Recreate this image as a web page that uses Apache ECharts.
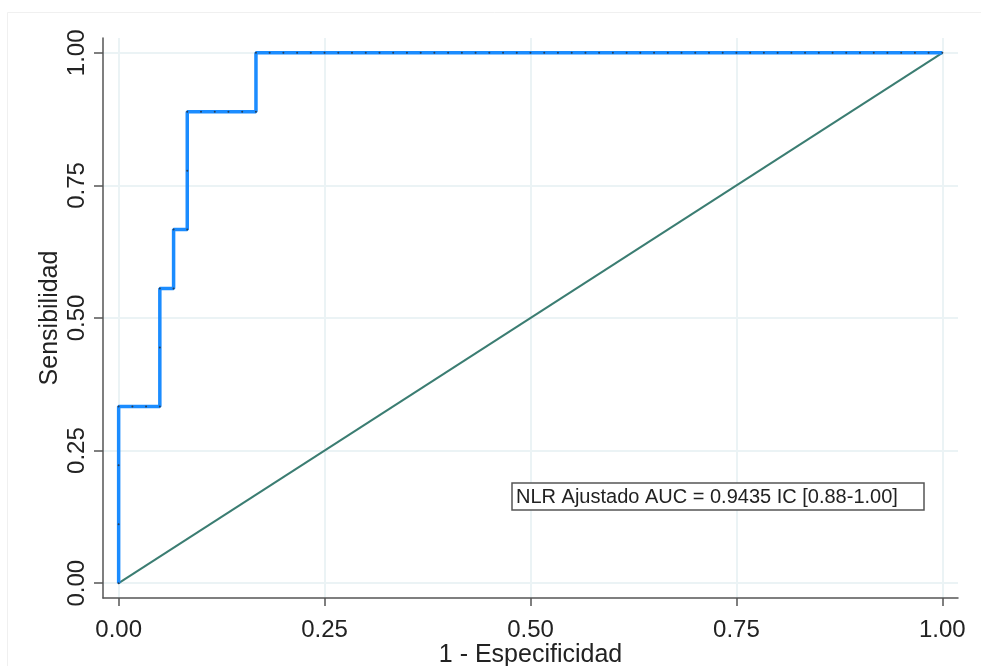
<!DOCTYPE html>
<html>
<head>
<meta charset="utf-8">
<script src="https://cdn.jsdelivr.net/npm/echarts@6/dist/echarts.min.js"></script>
<style>html,body{margin:0;padding:0;background:#fff;}#c{width:981px;height:666px;}</style>
</head>
<body>
<div id="c"></div>
<script>
// ROC curve points (1 - specificity, sensitivity)
var rocFpr = [0, 0, 0, 0, 0.0167, 0.0333, 0.05, 0.05, 0.05, 0.0667, 0.0667, 0.0833, 0.0833, 0.0833,
  0.1, 0.1167, 0.1333, 0.15, 0.1667, 0.1667,
  0.1833, 0.2, 0.2167, 0.2333, 0.25, 0.2667, 0.2833, 0.3, 0.3167, 0.3333,
  0.35, 0.3667, 0.3833, 0.4, 0.4167, 0.4333, 0.45, 0.4667, 0.4833, 0.5,
  0.5167, 0.5333, 0.55, 0.5667, 0.5833, 0.6, 0.6167, 0.6333, 0.65, 0.6667,
  0.6833, 0.7, 0.7167, 0.7333, 0.75, 0.7667, 0.7833, 0.8, 0.8167, 0.8333,
  0.85, 0.8667, 0.8833, 0.9, 0.9167, 0.9333, 0.95, 0.9667, 0.9833, 1];
var rocTpr = [0, 0.1111, 0.2222, 0.3333, 0.3333, 0.3333, 0.3333, 0.4444, 0.5556, 0.5556, 0.6667, 0.6667, 0.7778, 0.8889,
  0.8889, 0.8889, 0.8889, 0.8889, 0.8889, 1,
  1, 1, 1, 1, 1, 1, 1, 1, 1, 1,
  1, 1, 1, 1, 1, 1, 1, 1, 1, 1,
  1, 1, 1, 1, 1, 1, 1, 1, 1, 1,
  1, 1, 1, 1, 1, 1, 1, 1, 1, 1,
  1, 1, 1, 1, 1, 1, 1, 1, 1, 1];
var refFpr = [0, 1];
var refTpr = [0, 1];
var xTicks = [0, 0.25, 0.5, 0.75, 1];
var yTicks = [0, 0.25, 0.5, 0.75, 1];
var xName = '1 - Especificidad';
var yName = 'Sensibilidad';
var noteText = 'NLR Ajustado AUC = 0.9435 IC [0.88-1.00]';

var rocData = rocFpr.map(function (x, i) { return [x, rocTpr[i]]; });
var refData = refFpr.map(function (x, i) { return [x, refTpr[i]]; });

var FONT = 'Liberation Sans';
var axisCol = '#555555';
var gridCol = '#ebf3f5';

var chart = echarts.init(document.getElementById('c'), null, {renderer: 'canvas'});
chart.setOption({
  backgroundColor: '#ffffff',
  animation: false,
  grid: {left: 103, right: 23, top: 38, bottom: 68, containLabel: false, outerBoundsMode: 'none'},
  xAxis: {
    type: 'value', min: -0.019, max: 1.019,
    name: xName, nameLocation: 'middle', nameGap: 45, nameMoveOverlap: false,
    nameTextStyle: {fontFamily: FONT, fontSize: 25, color: '#222'},
    axisLine: {show: true, onZero: false, lineStyle: {color: axisCol, width: 1.5}},
    axisTick: {show: true, length: 8, customValues: xTicks, lineStyle: {color: axisCol, width: 1.5}},
    axisLabel: {customValues: xTicks, margin: 20, fontFamily: FONT, fontSize: 24, color: '#222',
      formatter: function (v) { return v.toFixed(2); }},
    splitLine: {show: true, lineStyle: {color: gridCol, width: 2}}
  },
  yAxis: {
    type: 'value', min: -0.028, max: 1.028,
    name: yName, nameLocation: 'middle', nameGap: 40, nameRotate: 90, nameMoveOverlap: false,
    nameTextStyle: {fontFamily: FONT, fontSize: 25, color: '#222'},
    axisLine: {show: true, onZero: false, lineStyle: {color: axisCol, width: 1.5}},
    axisTick: {show: true, length: 9, customValues: yTicks, lineStyle: {color: axisCol, width: 1.5}},
    axisLabel: {customValues: yTicks, rotate: 90, margin: 14, fontFamily: FONT, fontSize: 24, color: '#222',
      formatter: function (v) { return v.toFixed(2); }},
    splitLine: {show: true, lineStyle: {color: gridCol, width: 2}}
  },
  series: [
    {
      type: 'line', data: refData, showSymbol: false, z: 2,
      lineStyle: {color: '#3b7d72', width: 2}
    },
    {
      type: 'line', data: rocData, showSymbol: true, symbol: 'circle', symbolSize: 2,
      itemStyle: {color: '#2b3f55'}, z: 3,
      lineStyle: {color: '#1b8cff', width: 3.5}
    }
  ],
  graphic: [
    {type: 'rect', shape: {x: 7.5, y: 12.5, width: 1000, height: 700}, silent: true, z: -10,
      style: {fill: null, stroke: '#f0f0f0', lineWidth: 1}},
    {type: 'rect', shape: {x: 512, y: 483, width: 412, height: 27},
      style: {fill: '#ffffff', stroke: '#555555', lineWidth: 1.5}, z: 10},
    {type: 'text', x: 516, y: 497, z: 11,
      style: {text: noteText, fontFamily: FONT, fontSize: 20, fill: '#222', verticalAlign: 'middle', align: 'left'}}
  ]
});
</script>
</body>
</html>
